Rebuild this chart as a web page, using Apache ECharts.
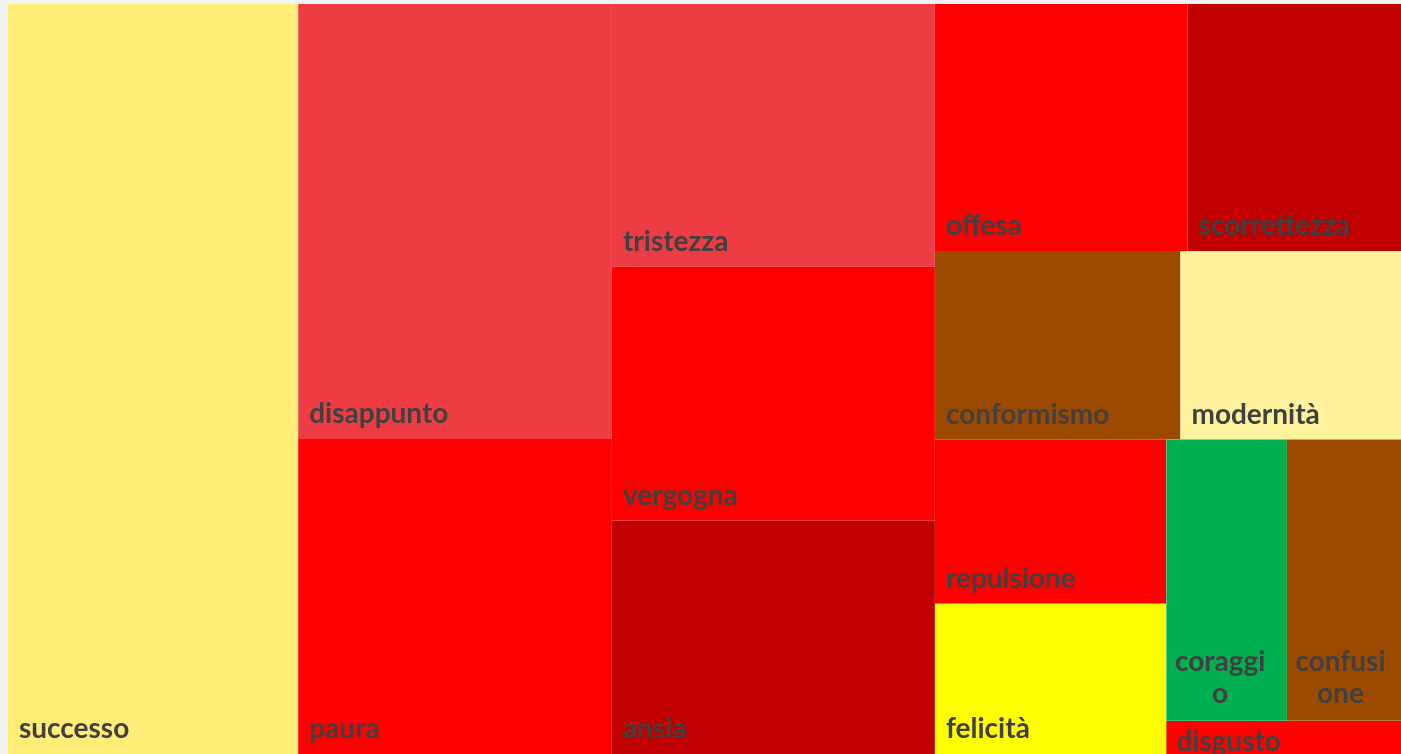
<!DOCTYPE html>
<html>
<head>
<meta charset="utf-8">
<script src="https://cdn.jsdelivr.net/npm/echarts@6/dist/echarts.min.js"></script>
<style>
html, body { margin: 0; padding: 0; background: #f2f2f2; }
#main { width: 1401px; height: 754px; }
</style>
</head>
<body>
<div id="main"></div>
<script>
const names = ['successo', 'disappunto', 'paura', 'tristezza', 'vergogna', 'ansia', 'offesa', 'scorrettezza',
    'conformismo', 'modernità', 'repulsione', 'felicità', 'coraggio', 'confusione', 'disgusto'];
const values = [217.7, 136.5, 98.8, 84.9, 82.0, 75.4, 62.4, 52.7, 46.3, 41.6, 38.0, 34.8, 33.9, 32.1, 7.8];
const colors = ['#FFED78', '#EE3C44', '#FF0000', '#EE3C44', '#FF0000', '#C00000', '#FF0000', '#C00000',
    '#9C4A00', '#FFF29E', '#FF0000', '#FFFF00', '#00B050', '#9C4A00', '#FF0000'];
// grouping of the cells (indexes into names) so the slices fall like the original
const nesting = [[[0, [1, 2]], [3, 4, 5]], [[[6, 7], [8, 9]], [[10, 11], [[12, 13], 14]]]];

// a few cells need their own label placement
const labelTweaks = {
    12: { position: 'insideBottom', overflow: 'breakAll', padding: [5, 18, 5, 5], lineHeight: 32 },
    13: { position: 'insideBottom', overflow: 'breakAll', padding: [5, 12, 5, 5], lineHeight: 32 },
    14: { position: 'insideTopLeft', distance: 7, padding: [0, 0, 0, 3], lineHeight: 28 }
};

function leaf(i) {
    const item = { name: names[i], value: values[i], itemStyle: { color: colors[i] } };
    if (labelTweaks[i]) item.label = labelTweaks[i];
    return item;
}

function build(n) {
    return typeof n === 'number' ? leaf(n) : { name: '', children: n.map(build) };
}

const myChart = echarts.init(document.getElementById('main'));
const option = {
    backgroundColor: '#F2F2F2',
    animation: false,
    series: [{
        type: 'treemap',
        left: 8,
        top: 4,
        right: 0,
        bottom: 0,
        roam: false,
        nodeClick: false,
        sort: false,
        squareRatio: 1.33,
        breadcrumb: { show: false },
        itemStyle: { borderWidth: 0, gapWidth: 0, borderColor: '#fff' },
        label: {
            show: true,
            position: 'insideBottomLeft',
            distance: 6,
            padding: 5,
            color: '#404040',
            fontFamily: 'Lato',
            fontWeight: 'bold',
            fontSize: 28
        },
        data: nesting.map(build)
    }]
};
myChart.setOption(option);
window.addEventListener('resize', function () {
    myChart.resize();
});
</script>
</body>
</html>
